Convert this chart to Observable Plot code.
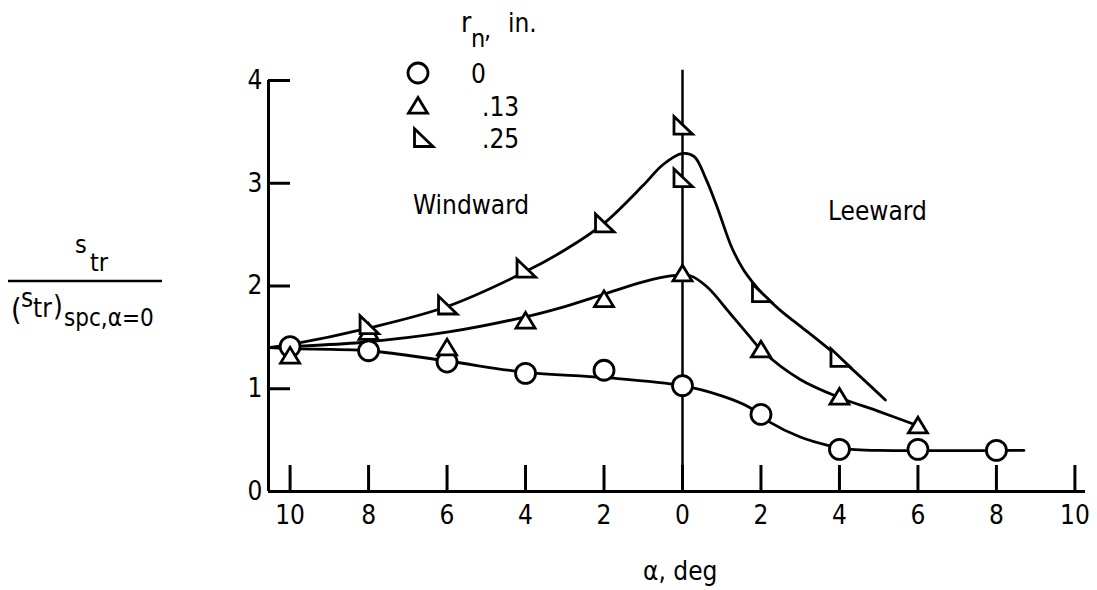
<!DOCTYPE html>
<html><head><meta charset="utf-8">
<script src="https://cdn.jsdelivr.net/npm/d3@7"></script>
<script src="https://cdn.jsdelivr.net/npm/@observablehq/plot@0.6"></script>
<style>
html,body{margin:0;padding:0;background:#fff;}
#chart{position:relative;width:1097px;height:590px;}
svg text{font-family:"DejaVu Sans Condensed","Liberation Sans Narrow","Arial Narrow",sans-serif;fill:#000;}
</style></head><body><div id="chart"></div>
<script>
// ---- axis data ----
const xDomain = [-10.55, 10.27];   // negative = windward, positive = leeward
const yDomain = [0, 4];
const xTicks = [-10, -8, -6, -4, -2, 0, 2, 4, 6, 8, 10];
const yTicks = [0, 1, 2, 3, 4];
const centerLineTop = 4.1;

// ---- measured points (alpha signed, ratio) ----
const alpha0  = [-10, -8, -6, -4, -2, 0, 2, 4, 6, 8];
const ratio0  = [1.41, 1.37, 1.26, 1.15, 1.18, 1.03, 0.75, 0.41, 0.41, 0.40];
const alpha13 = [-10, -8, -6, -4, -2, 0, 2, 4, 6];
const ratio13 = [1.32, 1.55, 1.40, 1.66, 1.87, 2.12, 1.38, 0.92, 0.64];
const alpha25 = [-8, -6, -4, -2, 0, 0, 2, 4];
const ratio25 = [1.62, 1.81, 2.17, 2.61, 3.56, 3.05, 1.93, 1.30];

// ---- faired curves ----
const curve0A  = [-10.55, -10, -8, -6, -4, -2, 0, 1, 1.7, 2.2, 3, 3.7, 4.3, 5, 8.7];
const curve0V  = [1.40, 1.39, 1.37, 1.27, 1.16, 1.11, 1.03, 0.93, 0.82, 0.68, 0.53, 0.45, 0.41, 0.40, 0.40];
const curve13A = [-10.55, -10, -8.2, -6, -4, -3, -2, -1, -0.25, 0.2, 0.63, 1.22, 1.73, 2.0, 3.0, 4.03, 5.0, 6.0];
const curve13V = [1.40, 1.41, 1.45, 1.55, 1.70, 1.80, 1.92, 2.04, 2.10, 2.10, 1.99, 1.73, 1.50, 1.38, 1.09, 0.91, 0.78, 0.64];
const curve25A = [-10.55, -10, -8, -6, -4, -3, -2, -1, -0.5, 0, 0.3, 0.6, 0.9, 1.25, 1.55, 1.8, 2.0, 2.5, 3.0, 4.0, 5.17];
const curve25V = [1.40, 1.43, 1.59, 1.80, 2.14, 2.35, 2.61, 2.98, 3.18, 3.29, 3.26, 3.04, 2.75, 2.38, 2.16, 2.03, 1.94, 1.76, 1.61, 1.30, 0.89];

const legendLabels = ["0", ".13", ".25"];

// ---- symbols ----
const symCircle = {draw(c, s){const r=Math.sqrt(s/Math.PI); c.moveTo(r,0); c.arc(0,0,r,0,2*Math.PI); c.closePath();}};
const symTri = {draw(c, s){const r=Math.sqrt(s/Math.PI); c.moveTo(0,-0.85*r); c.lineTo(0.95*r,0.72*r); c.lineTo(-0.95*r,0.72*r); c.closePath();}};
const symRTri = {draw(c, s){const r=Math.sqrt(s/Math.PI); c.moveTo(-0.85*r,-0.92*r); c.lineTo(1.0*r,0.85*r); c.lineTo(-0.85*r,0.85*r); c.closePath();}};
const symbols = [symCircle, symTri, symRTri];

const zip = (A, V) => A.map((a, i) => ({a, v: V[i]}));
const pts0 = zip(alpha0, ratio0), pts13 = zip(alpha13, ratio13), pts25 = zip(alpha25, ratio25);
const c0 = zip(curve0A, curve0V), c13 = zip(curve13A, curve13V), c25 = zip(curve25A, curve25V);

const dotOpts = {x: "a", y: "v", r: 10, stroke: "black", strokeWidth: 2.8, fill: "white"};
const lineOpts = {x: "a", y: "v", curve: "catmull-rom", stroke: "black", strokeWidth: 2.8};

const plot = Plot.plot({
  width: 1097, height: 590,
  marginLeft: 268, marginRight: 12, marginTop: 80, marginBottom: 99,
  x: {domain: xDomain, axis: null},
  y: {domain: yDomain, axis: null},
  style: {fontFamily: '"DejaVu Sans Condensed","Liberation Sans Narrow",sans-serif', background: "white"},
  marks: [
    Plot.ruleY([yDomain[0]], {stroke: "black", strokeWidth: 3}),
    Plot.ruleX([xDomain[0]], {y1: yDomain[0], y2: yDomain[1], stroke: "black", strokeWidth: 3}),
    Plot.ruleX([0], {y1: yDomain[0], y2: centerLineTop, stroke: "black", strokeWidth: 2.5}),
    Plot.axisX(xTicks, {tickSize: -26, strokeWidth: 3, fill: "none", label: null}),
    Plot.axisX(xTicks, {tickSize: 0, tickPadding: 14, fontSize: 26, tickFormat: d => String(Math.abs(d)), label: null}),
    Plot.axisY(yTicks, {tickSize: -22, strokeWidth: 3, fill: "none", label: null}),
    Plot.axisY(yTicks, {tickSize: 0, tickPadding: 6, fontSize: 26, tickFormat: d => String(d), label: null}),
    Plot.line(c0, lineOpts),
    Plot.line(c13, lineOpts),
    Plot.line(c25, lineOpts),
    Plot.dot(pts0, {...dotOpts, symbol: symCircle}),
    Plot.dot(pts13, {...dotOpts, symbol: symTri}),
    Plot.dot(pts25, {...dotOpts, symbol: symRTri})
  ]
});
document.getElementById("chart").appendChild(plot);

// ---- annotations, legend, axis titles ----
const svg = d3.select(plot);
function txt(x, y, s, size){
  return svg.append("text").attr("x", x).attr("y", y).attr("font-size", size)
    .attr("text-anchor", "start").text(s);
}
// legend title r_n, in.
txt(461, 32, "r", 28);
txt(471, 47, "n", 25);
txt(484, 38, ",", 25);
txt(508, 32, "in.", 26);
// legend entries
const legY = [73, 106, 138];
const legX = [418, 418, 423];
legendLabels.forEach((lab, i) => {
  const p = d3.path(); symbols[i].draw(p, 100 * Math.PI);
  svg.append("path").attr("d", p.toString()).attr("transform", `translate(${legX[i]},${legY[i]})`)
    .attr("fill", "white").attr("stroke", "black").attr("stroke-width", 2.8);
  txt(i === 0 ? 471 : 482, legY[i] + 10, lab, 26);
});
// region labels
txt(413, 214, "Windward", 26);
txt(828, 220, "Leeward", 26);
// x axis title
txt(643, 580, "α, deg", 26);
// y axis title (fraction)
txt(75, 253, "s", 25);
txt(90, 271, "tr", 25);
svg.append("line").attr("x1", 8).attr("x2", 162).attr("y1", 281).attr("y2", 281).attr("stroke", "black").attr("stroke-width", 2.5);
txt(11, 320, "(", 30);
txt(21, 307, "s", 26);
txt(33, 317, "tr", 26);
txt(53, 316, ")", 28);
txt(64, 326, "spc,α=0", 24);
</script></body></html>
